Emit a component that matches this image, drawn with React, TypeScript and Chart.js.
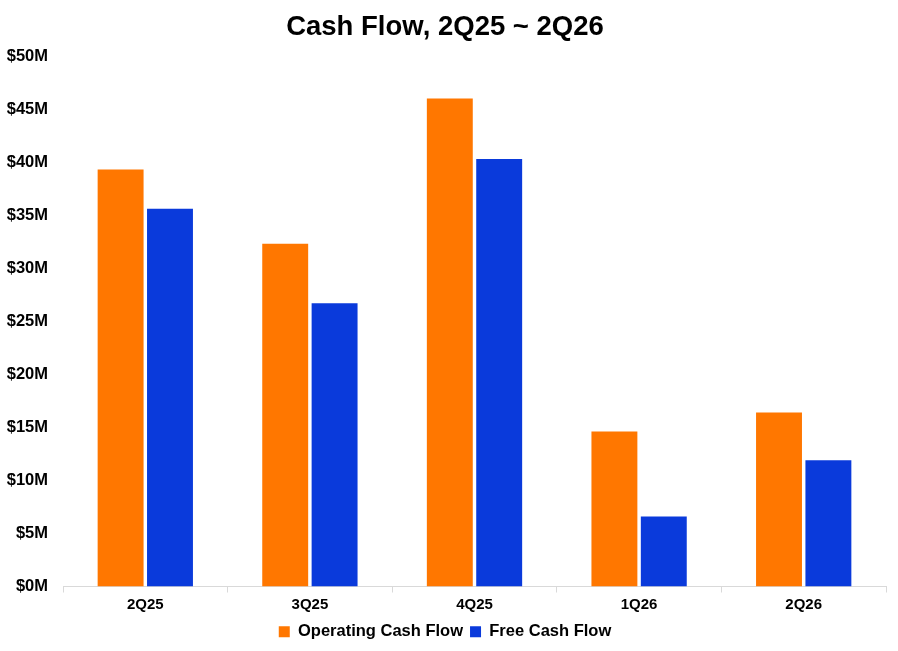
import { useEffect, useRef } from "react";
import { Chart, registerables, type ChartConfiguration } from "chart.js";

Chart.register(...registerables);

const quarters = ["2Q25", "3Q25", "4Q25", "1Q26", "2Q26"];
const operatingCashFlow = [39.3, 32.3, 46.0, 14.6, 16.4];
const freeCashFlow = [35.6, 26.7, 40.3, 6.6, 11.9];

const ORANGE = "#FF7700";
const BLUE = "#0A3ADB";
const FONT = "'Liberation Sans', Arial, sans-serif";

export default function App() {
  const canvasRef = useRef<HTMLCanvasElement>(null);

  useEffect(() => {
    document.body.style.margin = "0";
    const canvas = canvasRef.current;
    if (!canvas) return;

    const config: ChartConfiguration<"bar"> = {
      type: "bar",
      data: {
        labels: quarters,
        datasets: [
          {
            label: "Operating Cash Flow",
            data: operatingCashFlow,
            backgroundColor: ORANGE,
            categoryPercentage: 0.6,
            barPercentage: 0.93,
          },
          {
            label: "Free Cash Flow",
            data: freeCashFlow,
            backgroundColor: BLUE,
            categoryPercentage: 0.6,
            barPercentage: 0.93,
          },
        ],
      },
      options: {
        responsive: false,
        animation: false,
        layout: { padding: { left: 4, right: 12, top: 2, bottom: 1 } },
        plugins: {
          title: {
            display: true,
            text: "Cash Flow, 2Q25 ~ 2Q26",
            color: "#000",
            font: { family: FONT, size: 27.5, weight: "bold" },
            padding: { top: 9, bottom: 12 },
          },
          legend: {
            position: "bottom",
            labels: {
              color: "#000",
              font: { family: FONT, size: 16.5, weight: "bold" },
              boxWidth: 11,
              boxHeight: 11,
              padding: 7,
            },
          },
          tooltip: { enabled: false },
        },
        scales: {
          x: {
            grid: {
              offset: true,
              drawOnChartArea: false,
              drawTicks: true,
              tickLength: 6,
              color: "#d9d9d9",
            },
            border: { display: true, color: "#d9d9d9", width: 1 },
            ticks: {
              color: "#000",
              font: { family: FONT, size: 15, weight: "bold" },
              padding: 3,
            },
          },
          y: {
            min: 0,
            max: 50,
            grid: { display: false, drawTicks: false },
            border: { display: false },
            ticks: {
              stepSize: 5,
              color: "#000",
              padding: 15,
              font: { family: FONT, size: 16.5, weight: "bold" },
              callback: (v) => `$${v}M`,
            },
            afterFit: (scale) => {
              scale.width = 59;
            },
          },
        },
      },
    };

    const chart = new Chart(canvas, config);
    return () => chart.destroy();
  }, []);

  return (
    <div style={{ width: 898, height: 651, background: "#fff" }}>
      <canvas ref={canvasRef} width={898} height={651} />
    </div>
  );
}
